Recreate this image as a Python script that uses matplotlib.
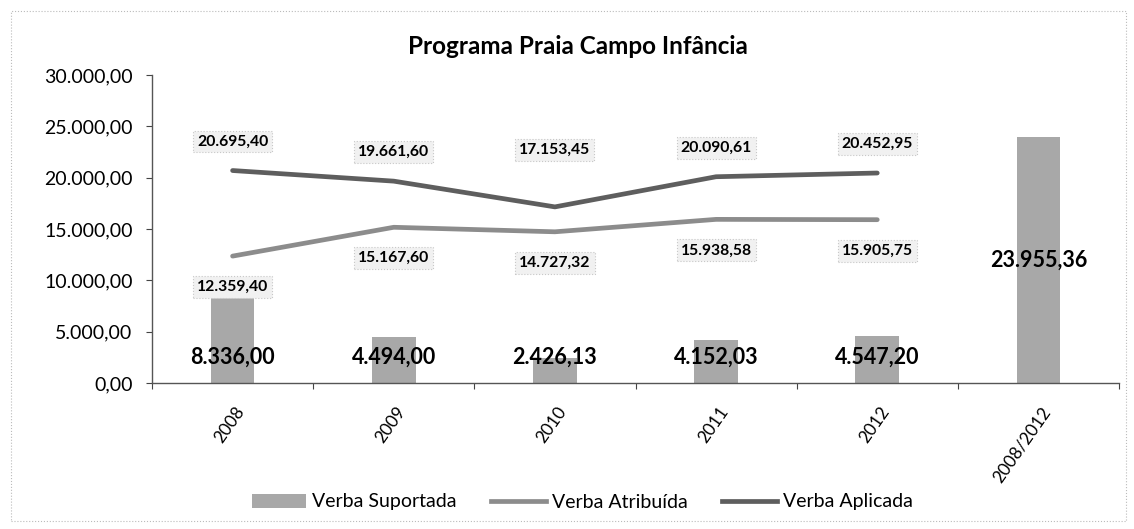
import matplotlib
matplotlib.use("Agg")
import matplotlib.pyplot as plt
from matplotlib.patches import Rectangle
from matplotlib.lines import Line2D
from matplotlib.patches import Patch

plt.rcParams['font.family'] = ['Lato', 'DejaVu Sans']

categories = ["2008", "2009", "2010", "2011", "2012", "2008/2012"]
verba_suportada = [8336.00, 4494.00, 2426.13, 4152.03, 4547.20, 23955.36]
verba_atribuida = [12359.40, 15167.60, 14727.32, 15938.58, 15905.75]
verba_aplicada = [20695.40, 19661.60, 17153.45, 20090.61, 20452.95]
yticks = [0, 5000, 10000, 15000, 20000, 25000, 30000]
title = "Programa Praia Campo Infância"


def fmt(v):
    s = f"{v:,.2f}"
    return s.replace(",", "X").replace(".", ",").replace("X", ".")


W, H = 1134, 529
fig = plt.figure(figsize=(W / 100, H / 100), dpi=100)
ax = fig.add_axes([152 / W, 1 - 383 / H, (1119 - 152) / W, (383 - 75) / H])

x = list(range(len(categories)))
bar_color = '#a8a8a8'
atr_color = '#8c8c8c'
apl_color = '#5e5e5e'

ax.bar(x, verba_suportada, width=0.27, color=bar_color, zorder=2)
xl = x[:len(verba_atribuida)]
ax.plot(xl, verba_atribuida, color=atr_color, lw=3.4, solid_capstyle='round',
        solid_joinstyle='round', zorder=3)
ax.plot(xl, verba_aplicada, color=apl_color, lw=3.4, solid_capstyle='round',
        solid_joinstyle='round', zorder=3)

ax.set_xlim(-0.5, len(categories) - 0.5)
ax.set_ylim(0, 30000)
ax.set_yticks(yticks)
ax.set_yticklabels([fmt(v) for v in yticks], fontsize=14)
ax.tick_params(axis='y', length=4, color='#444444', pad=10)
ax.set_xticks([i + 0.5 for i in range(len(categories) - 1)] + [-0.5, len(categories) - 0.5], minor=False)
ax.set_xticklabels([])
ax.tick_params(axis='x', length=4, color='#444444')
ax.set_xticks(x, minor=True)
ax.set_xticklabels(categories, minor=True, rotation=55, ha='right', va='top',
                   rotation_mode='anchor', fontsize=12.5)
ax.tick_params(axis='x', which='minor', length=0, pad=15)
for lab in ax.get_xticklabels(minor=True):
    lab.set_transform(lab.get_transform() + matplotlib.transforms.ScaledTranslation(2 / 100, 0, fig.dpi_scale_trans))

for s in ['top', 'right']:
    ax.spines[s].set_visible(False)
for s in ['left', 'bottom']:
    ax.spines[s].set_color('#555555')
    ax.spines[s].set_linewidth(1.0)

box = dict(boxstyle='square,pad=0.25', facecolor='#f1f1f1', edgecolor='#c8c8c8',
           linestyle=':', linewidth=0.8)

apl_off = [29, 29, 57, 29, 29]
for i, v in enumerate(verba_aplicada):
    ax.annotate(fmt(v), (i, v), xytext=(0, apl_off[i] * 0.72), textcoords='offset points',
                ha='center', va='center', fontsize=11.3, fontweight='bold', bbox=box, zorder=4)
for i, v in enumerate(verba_atribuida):
    ax.annotate(fmt(v), (i, v), xytext=(0, -31 * 0.72), textcoords='offset points',
                ha='center', va='center', fontsize=11.3, fontweight='bold', bbox=box, zorder=4)
for i, v in enumerate(verba_suportada):
    yy = v / 2 if i == len(verba_suportada) - 1 else 2500
    ax.text(i, yy, fmt(v), ha='center', va='center', fontsize=15.5, fontweight='bold', zorder=5)

fig.text(578 / W, 1 - 47 / H, title, ha='center', va='center', fontsize=17.5, fontweight='bold')

handles = [Patch(facecolor=bar_color, edgecolor='none'),
           Line2D([0], [0], color=atr_color, lw=3.4),
           Line2D([0], [0], color=apl_color, lw=3.4)]
fig.legend(handles, ["Verba Suportada", "Verba Atribuída", "Verba Aplicada"],
           loc='center', bbox_to_anchor=(582 / W, 1 - 502 / H), ncol=3, frameon=False,
           fontsize=14, handlelength=2.8, handletextpad=0.3, columnspacing=1.8)

fig.patches.append(Rectangle((11 / W, 1 - 521 / H), (1126 - 11) / W, (521 - 11) / H,
                             transform=fig.transFigure, fill=False, edgecolor='#bbbbbb',
                             linestyle=':', linewidth=0.8))

fig.savefig("out.png", dpi=100)
